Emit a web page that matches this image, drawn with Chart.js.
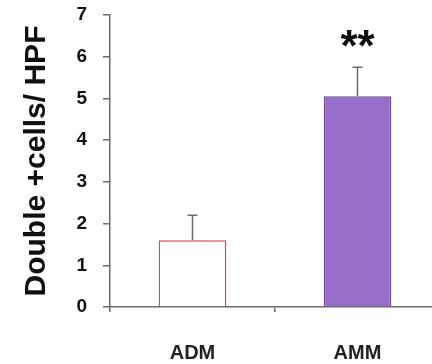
<!DOCTYPE html>
<html>
<head>
<meta charset="utf-8">
<script src="https://cdn.jsdelivr.net/npm/chart.js@4.4.1/dist/chart.umd.min.js"></script>
<style>
    html, body { margin: 0; padding: 0; background: #fff; overflow: hidden; }
    #wrap { width: 440px; height: 364px; }
</style>
</head>
<body>
<div id="wrap"><canvas id="barChart"></canvas></div>
<script>
const groups = ['ADM', 'AMM'];
const means = [1.6, 5.05];
const errors = [0.6, 0.7];
const marks = ['', '**'];
const yTicks = [0, 1, 2, 3, 4, 5, 6, 7];

const fontFamily = '"Liberation Sans", Arial, sans-serif';

// vertical error bars (upper half only) plus significance stars
const errorBars = {
    id: 'errorBars',
    afterDatasetsDraw(chart) {
        const ctx = chart.ctx;
        const y = chart.scales.y;
        const bars = chart.getDatasetMeta(0).data;
        ctx.save();
        bars.forEach((bar, i) => {
            const top = y.getPixelForValue(means[i] + errors[i]);
            ctx.strokeStyle = '#6b6b6b';
            ctx.lineWidth = 1.5;
            ctx.beginPath();
            ctx.moveTo(bar.x, bar.y);
            ctx.lineTo(bar.x, top);
            ctx.moveTo(bar.x - 5, top);
            ctx.lineTo(bar.x + 5, top);
            ctx.stroke();
            if (marks[i]) {
                ctx.fillStyle = '#111';
                ctx.font = 'bold 44px ' + fontFamily;
                ctx.textAlign = 'center';
                ctx.textBaseline = 'middle';
                ctx.fillText(marks[i], bar.x, y.getPixelForValue(6.2));
            }
        });
        ctx.restore();
    }
};

const ctx = document.getElementById('barChart').getContext('2d');

new Chart(ctx, {
    type: 'bar',
    data: {
        labels: groups,
        datasets: [{
            data: means,
            backgroundColor: ['#ffffff', '#9670c8'],
            borderColor: ['#e0404f', '#6c4d9c'],
            borderWidth: 1.5,
            barPercentage: 0.41,
            categoryPercentage: 1
        }]
    },
    options: {
        responsive: true,
        maintainAspectRatio: false,
        animation: false,
        layout: { padding: { top: 15, right: 0, bottom: 0, left: 0 } },
        plugins: {
            legend: { display: false },
            tooltip: { enabled: false }
        },
        scales: {
            y: {
                min: 0,
                max: 7,
                afterFit(scale) {
                    scale.width = 110;
                    scale.paddingTop = 0;
                    scale.paddingBottom = 0;
                },
                afterBuildTicks(scale) { scale.ticks = yTicks.map(v => ({ value: v })); },
                border: { color: '#6b6b6b', width: 1.5 },
                grid: { drawOnChartArea: false, tickLength: 7, color: '#6b6b6b', lineWidth: 1.5 },
                ticks: {
                    padding: 16,
                    color: '#111',
                    font: { family: fontFamily, size: 19, weight: 'bold' }
                },
                title: {
                    display: true,
                    text: 'Double +cells/ HPF',
                    color: '#111',
                    padding: { top: 19, bottom: 0 },
                    font: { family: fontFamily, size: 30, weight: 'bold' }
                }
            },
            x: {
                afterFit(scale) {
                    scale.height = 57;
                    scale.paddingLeft = 0;
                    scale.paddingRight = 0;
                },
                border: { color: '#6b6b6b', width: 1.5 },
                grid: { drawOnChartArea: false, tickLength: 5, color: '#6b6b6b', lineWidth: 1.5 },
                ticks: {
                    padding: 29,
                    color: '#222',
                    font: { family: fontFamily, size: 20, weight: 'bold' }
                }
            }
        }
    },
    plugins: [errorBars]
});
</script>
</body>
</html>
